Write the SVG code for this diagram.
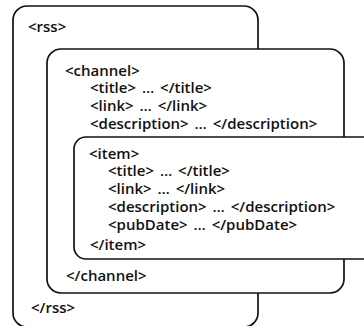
<svg xmlns="http://www.w3.org/2000/svg" width="364" height="326" viewBox="0 0 364 326">
<style>
.box{fill:#fff;stroke:#111;stroke-width:1.7}
text{font-family:"Open Sans","Noto Sans","DejaVu Sans",sans-serif;font-size:15px;font-weight:600;fill:#111;word-spacing:2px}
</style>
<rect width="364" height="326" fill="#fff"/>
<g id="connectors"/>
<g id="rss">
<rect class="box" x="13" y="6" width="245" height="321" rx="14" ry="14"/>
<text x="28" y="32">&lt;rss&gt;</text>
<text x="31" y="313">&lt;/rss&gt;</text>
</g>
<g id="channel">
<rect class="box" x="47" y="49" width="297" height="244" rx="14" ry="14"/>
<text x="65" y="76">&lt;channel&gt;</text>
<text x="90" y="93">&lt;title&gt; … &lt;/title&gt;</text>
<text x="90" y="111">&lt;link&gt; … &lt;/link&gt;</text>
<text x="90" y="129">&lt;description&gt; … &lt;/description&gt;</text>
<text x="66" y="281">&lt;/channel&gt;</text>
</g>
<g id="item">
<rect class="box" x="74" y="137" width="320" height="122" rx="12" ry="12"/>
<text x="89" y="159">&lt;item&gt;</text>
<text x="108" y="176">&lt;title&gt; … &lt;/title&gt;</text>
<text x="108" y="194">&lt;link&gt; … &lt;/link&gt;</text>
<text x="108" y="212">&lt;description&gt; … &lt;/description&gt;</text>
<text x="108" y="230">&lt;pubDate&gt; … &lt;/pubDate&gt;</text>
<text x="90" y="250">&lt;/item&gt;</text>
</g>
</svg>
